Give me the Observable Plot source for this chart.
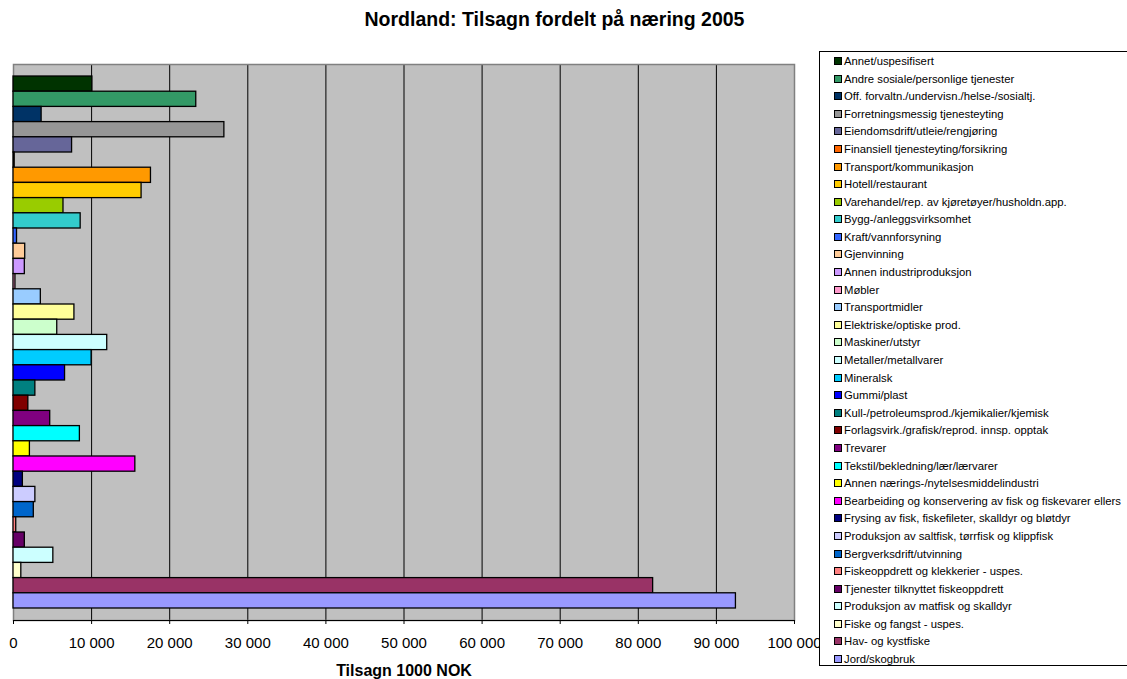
<!DOCTYPE html>
<html>
<head>
<meta charset="utf-8">
<script src="https://cdn.jsdelivr.net/npm/d3@7"></script>
<script src="https://cdn.jsdelivr.net/npm/@observablehq/plot@0.6"></script>
<style>
  html, body { margin: 0; padding: 0; background: #fff; }
  body { position: relative; width: 1127px; height: 679px; overflow: hidden; font-family: "Liberation Sans", Arial, sans-serif; }
  #title { position: absolute; left: 0; width: 1109px; top: 7px; text-align: center; font-weight: bold; font-size: 19.5px; line-height: 24px; color: #000; }
  #chart { position: absolute; left: 0; top: 0; }
  #legend { position: absolute; left: 819px; top: 51px; width: 330px; height: 615px; border: 1px solid #000; background: #fff; box-sizing: border-box; }
  .item { position: absolute; left: 14px; height: 17.6px; display: flex; align-items: center; font-size: 11.3px; color: #000; white-space: nowrap; }
  .sw { width: 8px; height: 8px; border: 1px solid #000; box-sizing: border-box; margin-right: 2px; flex: none; }
</style>
</head>
<body>
<div id="title">Nordland: Tilsagn fordelt på næring 2005</div>
<div id="chart"></div>
<div id="legend"></div>
<script>
// Categories, top to bottom as drawn
const categories = [
  "Annet/uspesifisert",
  "Andre sosiale/personlige tjenester",
  "Off. forvaltn./undervisn./helse-/sosialtj.",
  "Forretningsmessig tjenesteyting",
  "Eiendomsdrift/utleie/rengjøring",
  "Finansiell tjenesteyting/forsikring",
  "Transport/kommunikasjon",
  "Hotell/restaurant",
  "Varehandel/rep. av kjøretøyer/husholdn.app.",
  "Bygg-/anleggsvirksomhet",
  "Kraft/vannforsyning",
  "Gjenvinning",
  "Annen industriproduksjon",
  "Møbler",
  "Transportmidler",
  "Elektriske/optiske prod.",
  "Maskiner/utstyr",
  "Metaller/metallvarer",
  "Mineralsk",
  "Gummi/plast",
  "Kull-/petroleumsprod./kjemikalier/kjemisk",
  "Forlagsvirk./grafisk/reprod. innsp. opptak",
  "Trevarer",
  "Tekstil/bekledning/lær/lærvarer",
  "Annen nærings-/nytelsesmiddelindustri",
  "Bearbeiding og konservering av fisk og fiskevarer ellers",
  "Frysing av fisk, fiskefileter, skalldyr og bløtdyr",
  "Produksjon av saltfisk, tørrfisk og klippfisk",
  "Bergverksdrift/utvinning",
  "Fiskeoppdrett og klekkerier - uspes.",
  "Tjenester tilknyttet fiskeoppdrett",
  "Produksjon av matfisk og skalldyr",
  "Fiske og fangst - uspes.",
  "Hav- og kystfiske",
  "Jord/skogbruk"
];

// Tilsagn, 1000 NOK
const values = [
  10100, 23400, 3600, 27000, 7500, 150, 17600, 16400, 6400, 8600,
  450, 1500, 1450, 250, 3500, 7800, 5600, 12000, 10000, 6600,
  2800, 1900, 4700, 8500, 2100, 15600, 1200, 2800, 2600, 350,
  1450, 5100, 1000, 81900, 92500
];

const colors = [
  "#003300", "#339966", "#003366", "#969696", "#666699", "#FF6600", "#FF9900", "#FFCC00", "#99CC00", "#33CCCC",
  "#3366FF", "#FFCC99", "#CC99FF", "#FF99CC", "#99CCFF", "#FFFF99", "#CCFFCC", "#CCFFFF", "#00CCFF", "#0000FF",
  "#008080", "#800000", "#800080", "#00FFFF", "#FFFF00", "#FF00FF", "#000080", "#CCCCFF", "#0066CC", "#FF8080",
  "#660066", "#CCFFFF", "#FFFFCC", "#993366", "#9999FF"
];

const xTicks = [0, 10000, 20000, 30000, 40000, 50000, 60000, 70000, 80000, 90000, 100000];
const gridTicks = [10000, 20000, 30000, 40000, 50000, 60000, 70000, 80000, 90000];
const xLabel = "Tilsagn 1000 NOK";

const data = categories.map((c, i) => ({category: c, value: values[i]}));
const fmt = v => d3.format(",")(v).replace(/,/g, " ");

const chart = Plot.plot({
  width: 1127,
  height: 679,
  marginTop: 64,
  marginBottom: 59,
  marginLeft: 13,
  marginRight: 333,
  style: {fontFamily: "'Liberation Sans', Arial, sans-serif", fontSize: "15px", background: "transparent", color: "#000"},
  x: {domain: [0, 100000]},
  y: {type: "band", domain: categories, paddingInner: 0, paddingOuter: 0.79, round: false, axis: null},
  color: {type: "ordinal", domain: categories, range: colors},
  marks: [
    Plot.frame({fill: "#c0c0c0", stroke: null}),
    Plot.gridX(gridTicks, {stroke: "#000", strokeOpacity: 1, strokeWidth: 1}),
    Plot.frame({stroke: "#808080", strokeWidth: 1.5}),
    Plot.barX(data, {x: "value", y: "category", fill: "category", stroke: "#000", strokeWidth: 1.3}),
    Plot.frame({anchor: "bottom", stroke: "#000", strokeWidth: 1}),
    Plot.axisX(xTicks, {tickSize: 4, tickPadding: 13, tickFormat: fmt, stroke: "#000", fontSize: 15, label: null}),
    Plot.text([xLabel], {frameAnchor: "bottom", lineAnchor: "middle", dy: 50, text: d => d, fontWeight: "bold", fontSize: 16})
  ]
});
document.getElementById("chart").appendChild(chart);

const legend = document.getElementById("legend");
categories.forEach((c, i) => {
  const it = document.createElement("div");
  it.className = "item";
  it.style.top = (0.2 + i * 17.59) + "px";
  const sw = document.createElement("span");
  sw.className = "sw";
  sw.style.background = colors[i];
  const t = document.createElement("span");
  t.textContent = c;
  it.appendChild(sw);
  it.appendChild(t);
  legend.appendChild(it);
});
</script>
</body>
</html>
